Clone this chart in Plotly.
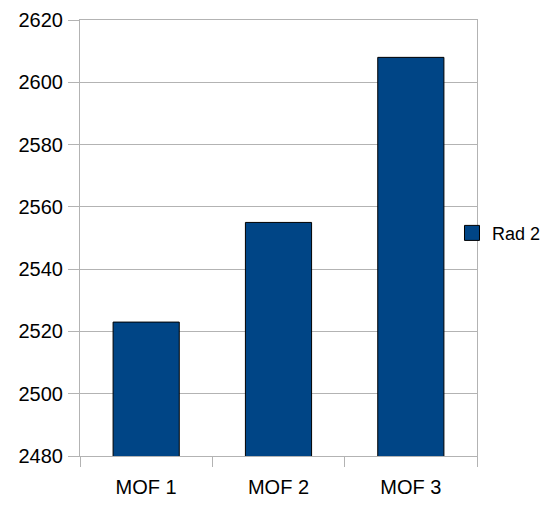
import plotly.graph_objects as go

categories = ["MOF 1", "MOF 2", "MOF 3"]
values = [2523, 2555, 2608]
series_name = "Rad 2"
y_ticks = [2480, 2500, 2520, 2540, 2560, 2580, 2600, 2620]

color = "#004586"
grid = "#b3b3b3"

fig = go.Figure()
fig.add_trace(go.Bar(
    x=categories, y=values, name=series_name, width=0.5,
    marker=dict(color=color, line=dict(color="black", width=1)),
    showlegend=False,
))
fig.add_trace(go.Scatter(
    x=[None], y=[None], mode="markers", name=series_name,
    marker=dict(symbol="square", size=15, color=color, line=dict(color="black", width=1)),
    showlegend=True,
))

fig.update_layout(
    width=542, height=497,
    margin=dict(l=72, r=73, t=12, b=49, autoexpand=False),
    paper_bgcolor="white", plot_bgcolor="white",
    font=dict(family="Liberation Sans", size=20, color="black"),
    legend=dict(x=0.937, xanchor="left", y=0.511, yanchor="middle",
                font=dict(size=18), itemwidth=30, bgcolor="rgba(0,0,0,0)",
                borderwidth=0),
    bargap=0.5,
)
fig.update_xaxes(
    type="category", tickson="boundaries", ticks="outside", ticklen=10,
    tickcolor=grid, showline=True, linecolor=grid, mirror=True,
    showgrid=False, ticklabelstandoff=13,
)
fig.update_yaxes(
    range=[2480, 2620], tickvals=y_ticks, ticks="outside", ticklen=11,
    tickcolor=grid, showgrid=True, gridcolor=grid, showline=True,
    linecolor=grid, mirror=True, zeroline=False, ticklabelstandoff=1,
)

fig.write_html("out.html")
